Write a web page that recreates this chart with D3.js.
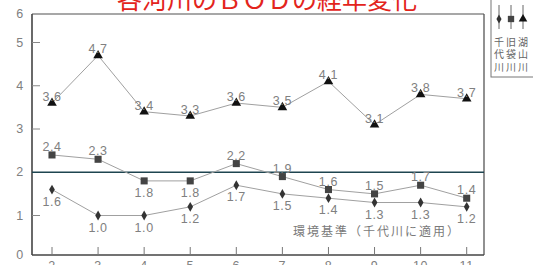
<!DOCTYPE html>
<html>
<head>
<meta charset="utf-8">
<script src="https://cdn.jsdelivr.net/npm/d3@7"></script>
<style>
  html, body { margin: 0; padding: 0; background: #fff; }
  svg { display: block; }
  .num { font-family: "Liberation Sans", "Noto Sans", sans-serif; fill: #808080; font-size: 12.5px; letter-spacing: 0.6px; }
  .jp { font-family: "Noto Sans CJK JP", sans-serif; }
</style>
</head>
<body>
<div id="chart"></div>
<script>
// Heisei years
const years = [2, 3, 4, 5, 6, 7, 8, 9, 10, 11]
const koyama = [3.6, 4.7, 3.4, 3.3, 3.6, 3.5, 4.1, 3.1, 3.8, 3.7]
const kyuBukuro = [2.4, 2.3, 1.8, 1.8, 2.2, 1.9, 1.6, 1.5, 1.7, 1.4]
const sendai = [1.6, 1.0, 1.0, 1.2, 1.7, 1.5, 1.4, 1.3, 1.3, 1.2]
const yTicks = [0, 1, 2, 3, 4, 5, 6]
const standard = 2
const legendNames = ["千代川", "旧袋川", "湖山川"]

const W = 533, H = 265
const frame = {left: 32, top: 14, right: 484, bottom: 255}

const svg = d3.select("#chart").append("svg")
  .attr("width", W)
  .attr("height", H)

// the scan is squeezed near the top, so the scale is piecewise
const x = d3.scaleLinear().domain([2, 11]).range([52, 466.7])
const y = d3.scaleLinear().domain([0, 1, 5, 6]).range([255, 215.5, 42.5, 14])

// title, cut off by the top edge like in the scan
svg.append("text")
  .attr("class", "jp")
  .attr("x", 267)
  .attr("y", 9)
  .attr("text-anchor", "middle")
  .attr("fill", "#e3241c")
  .style("font-size", "25px")
  .text("各河川のＢＯＤの経年変化")

// frame
svg.append("line").attr("x1", frame.left).attr("x2", frame.right).attr("y1", frame.top).attr("y2", frame.top)
  .attr("stroke", "#8a8a8a").attr("stroke-width", 1.5)
svg.append("line").attr("x1", frame.right).attr("x2", frame.right).attr("y1", frame.top).attr("y2", frame.bottom)
  .attr("stroke", "#555").attr("stroke-width", 1.3)
svg.append("line").attr("x1", frame.left).attr("x2", frame.left).attr("y1", frame.top).attr("y2", frame.bottom)
  .attr("stroke", "#444").attr("stroke-width", 1.6)
svg.append("line").attr("x1", frame.left).attr("x2", frame.right).attr("y1", frame.bottom).attr("y2", frame.bottom)
  .attr("stroke", "#444").attr("stroke-width", 1.6)

// y axis
svg.selectAll(".ytick")
  .data(yTicks.filter(d => d > 0 && d < 6 && d !== standard))
  .enter().append("line")
  .attr("x1", frame.left).attr("x2", frame.left + 8)
  .attr("y1", d => y(d)).attr("y2", d => y(d))
  .attr("stroke", "#888")

svg.selectAll(".ylab")
  .data(yTicks)
  .enter().append("text")
  .attr("class", "num")
  .attr("x", 20)
  .attr("y", d => y(d) + 4)
  .attr("text-anchor", "middle")
  .text(d => d)

// x axis
svg.selectAll(".xtick")
  .data(years)
  .enter().append("line")
  .attr("x1", d => x(d)).attr("x2", d => x(d))
  .attr("y1", frame.bottom - 8).attr("y2", frame.bottom)
  .attr("stroke", "#777")

svg.selectAll(".xlab")
  .data(years)
  .enter().append("text")
  .attr("class", "num")
  .attr("x", d => x(d))
  .attr("y", 270)
  .attr("text-anchor", "middle")
  .text(d => d)

// environmental standard line
svg.append("line")
  .attr("x1", frame.left).attr("x2", frame.right)
  .attr("y1", y(standard)).attr("y2", y(standard))
  .attr("stroke", "#1e4550").attr("stroke-width", 1.4)

svg.append("text")
  .attr("class", "jp")
  .attr("x", 377)
  .attr("y", 236)
  .attr("text-anchor", "middle")
  .attr("fill", "#7a7a7a")
  .style("font-size", "12px")
  .style("letter-spacing", "2px")
  .text("環境基準（千代川に適用）")

const series = [
  {values: sendai, shape: d3.symbolDiamond, size: 28, color: "#333", dy: 12},
  {values: kyuBukuro, shape: d3.symbolSquare, size: 50, color: "#444", dy: -8},
  {values: koyama, shape: d3.symbolTriangle, size: 40, color: "#111", dy: -6}
]
// the two 1.8 labels of 旧袋川 sit below their points
const kyuBelow = [2, 3]

const line = d3.line().x((d, i) => x(years[i])).y(d => y(d))

series.forEach((s, si) => {
  svg.append("path")
    .attr("d", line(s.values))
    .attr("fill", "none")
    .attr("stroke", "#a0a0a0")
    .attr("stroke-width", 1)

  svg.selectAll(".pt" + si)
    .data(s.values)
    .enter().append("path")
    .attr("d", d3.symbol().type(s.shape).size(s.size))
    .attr("transform", (d, i) => `translate(${x(years[i])},${y(d)})`)
    .attr("fill", s.color)

  svg.selectAll(".lab" + si)
    .data(s.values)
    .enter().append("text")
    .attr("class", "num")
    .attr("x", (d, i) => x(years[i]))
    .attr("y", (d, i) => {
      let dy = s.dy
      if (si === 1 && kyuBelow.includes(i)) dy = 12
      return y(d) + dy + 4
    })
    .attr("text-anchor", "middle")
    .text(d => d.toFixed(1))
})

// legend
const legend = svg.append("g")
legend.append("rect")
  .attr("x", 491).attr("y", -5)
  .attr("width", 50).attr("height", 82)
  .attr("fill", "#fff")
  .attr("stroke", "#777")

const legendX = [499, 511, 523]
series.forEach((s, i) => {
  legend.append("line")
    .attr("x1", legendX[i]).attr("x2", legendX[i])
    .attr("y1", 5).attr("y2", 29)
    .attr("stroke", "#666")
  legend.append("path")
    .attr("d", d3.symbol().type(s.shape).size(s.size * 0.8))
    .attr("transform", `translate(${legendX[i]},19)`)
    .attr("fill", s.color)
  // names run top to bottom, one column per river
  legend.append("text")
    .attr("class", "jp")
    .attr("x", legendX[i])
    .attr("y", 37)
    .attr("fill", "#666")
    .style("writing-mode", "vertical-rl")
    .style("font-size", "10px")
    .style("letter-spacing", "2.5px")
    .text(legendNames[i])
})
</script>
</body>
</html>
